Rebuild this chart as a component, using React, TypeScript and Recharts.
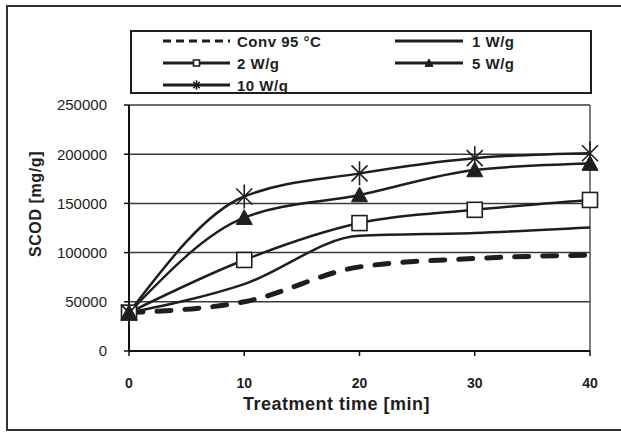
import React from 'react';
import { LineChart, Line, XAxis, YAxis, CartesianGrid, Legend, ReferenceLine } from 'recharts';

const times = [0, 10, 20, 30, 40];
const conv95 = [39000, 50000, 85500, 94000, 97500];
const w1 = [39000, 68000, 117000, 120000, 125500];
const w2 = [39000, 92500, 130000, 143500, 153500];
const w5 = [39000, 135500, 158500, 184000, 190500];
const w10 = [39000, 157000, 180500, 196000, 201000];
const yTicks = [0, 50000, 100000, 150000, 200000, 250000];
const xTicks = [0, 10, 20, 30, 40];
const seriesNames = ['Conv 95 °C', '1 W/g', '2 W/g', '5 W/g', '10 W/g'];
const seriesKeys = ['conv', 'w1', 'w2', 'w5', 'w10'];

const data = times.map((t, i) => ({
  t,
  conv: conv95[i],
  w1: w1[i],
  w2: w2[i],
  w5: w5[i],
  w10: w10[i],
}));

const FONT = '"Liberation Sans", Arial, sans-serif';
const INK = '#1e1e1e';

const SquareDot = (props: any) => {
  const { cx, cy, size = 15 } = props;
  if (cx == null || cy == null) return null;
  const h = size / 2;
  return <rect x={cx - h} y={cy - h} width={size} height={size} fill="#fff" stroke={INK} strokeWidth={1.6} />;
};

const TriangleDot = (props: any) => {
  const { cx, cy, size = 16 } = props;
  if (cx == null || cy == null) return null;
  const h = size / 2;
  return (
    <path
      d={`M${cx},${cy - h} L${cx + h},${cy + h * 0.85} L${cx - h},${cy + h * 0.85} Z`}
      fill={INK}
      stroke={INK}
      strokeWidth={1}
    />
  );
};

const StarDot = (props: any) => {
  const { cx, cy, size = 20 } = props;
  if (cx == null || cy == null) return null;
  const r = size / 2;
  const d = r * 0.8;
  return (
    <g stroke={INK} strokeWidth={1.6} fill="none">
      <line x1={cx} y1={cy - r * 1.2} x2={cx} y2={cy + r * 1.2} />
      <line x1={cx - d} y1={cy - d} x2={cx + d} y2={cy + d} />
      <line x1={cx - d} y1={cy + d} x2={cx + d} y2={cy - d} />
    </g>
  );
};

const markerFor = (key: string, cx: number, cy: number, small: boolean) => {
  if (key === 'w2') return <SquareDot cx={cx} cy={cy} size={small ? 6 : 15} />;
  if (key === 'w5') return <TriangleDot cx={cx} cy={cy} size={small ? 8 : 16} />;
  if (key === 'w10') return <StarDot cx={cx} cy={cy} size={small ? 8 : 20} />;
  return null;
};

const LEG_W = 462;
const LEG_H = 64;
const legendSlots = [
  [0, 0],
  [1, 0],
  [0, 1],
  [1, 1],
  [0, 2],
];
const colLineStart = [33, 265];
const colLineEnd = [100, 333];
const colText = [107, 342];
const rowY = [11, 33, 55];

const renderLegend = (props: any) => {
  const payload = props.payload || [];
  return (
    <svg width={LEG_W} height={LEG_H} style={{ display: 'block' }}>
      <rect x={1} y={1} width={LEG_W - 2} height={LEG_H - 2} fill="#fff" stroke={INK} strokeWidth={2} />
      {payload.map((entry: any, i: number) => {
        const key = String(entry.dataKey);
        const idx = seriesKeys.indexOf(key);
        const [col, row] = legendSlots[idx >= 0 ? idx : i];
        const y = rowY[row];
        const x1 = colLineStart[col];
        const x2 = colLineEnd[col];
        const dashed = key === 'conv';
        return (
          <g key={key}>
            <line
              x1={x1}
              y1={y}
              x2={x2}
              y2={y}
              stroke={INK}
              strokeWidth={3}
              strokeDasharray={dashed ? '8 5' : undefined}
            />
            {markerFor(key, (x1 + x2) / 2, y, true)}
            <text
              x={colText[col]}
              y={y}
              dominantBaseline="central"
              fontFamily={FONT}
              fontSize={15}
              fontWeight="bold"
              letterSpacing={0.5}
              fill={INK}
            >
              {entry.value}
            </text>
          </g>
        );
      })}
    </svg>
  );
};

const XLabel = (props: any) => {
  const vb = props.viewBox || { x: 0, y: 0, width: 0, height: 0 };
  return (
    <text
      x={vb.x + vb.width / 2 - 23}
      y={vb.y + 59}
      textAnchor="middle"
      fontFamily={FONT}
      fontSize={18}
      fontWeight="bold"
      letterSpacing={0.5}
      fill={INK}
    >
      Treatment time [min]
    </text>
  );
};

const YLabel = (props: any) => {
  const vb = props.viewBox || { x: 0, y: 0, width: 0, height: 0 };
  const cx = vb.x + 35;
  const cy = vb.y + vb.height / 2 - 24;
  return (
    <text
      x={cx}
      y={cy}
      transform={`rotate(-90, ${cx}, ${cy})`}
      textAnchor="middle"
      dominantBaseline="central"
      fontFamily={FONT}
      fontSize={16}
      fontWeight="bold"
      letterSpacing={0.6}
      fill={INK}
    >
      SCOD [mg/g]
    </text>
  );
};

export default function App() {
  return (
    <div style={{ position: 'absolute', left: 0, top: 0, width: 621, height: 432, background: '#fff', overflow: 'hidden' }}>
      <div
        style={{
          position: 'absolute',
          left: 6,
          top: 5,
          width: 624,
          height: 426,
          border: '2px solid #333',
          boxSizing: 'border-box',
        }}
      />
      <div style={{ position: 'absolute', left: 0, top: 0 }}>
        <LineChart width={621} height={432} data={data} margin={{ top: 105, right: 31, bottom: 51, left: 0 }}>
          <CartesianGrid horizontal vertical={false} stroke="#3a3a3a" strokeWidth={1.5} />
          <ReferenceLine x={40} stroke="#555" strokeWidth={1.5} />
          <XAxis
            dataKey="t"
            type="number"
            domain={[0, 40]}
            ticks={xTicks}
            interval={0}
            tickSize={5}
            tickMargin={22}
            axisLine={{ stroke: '#111', strokeWidth: 2 }}
            tickLine={{ stroke: '#111', strokeWidth: 1.5 }}
            tick={{ fontFamily: FONT, fontSize: 14, fontWeight: 'bold', fill: INK }}
            label={XLabel}
          />
          <YAxis
            type="number"
            domain={[0, 250000]}
            ticks={yTicks}
            interval={0}
            width={129}
            tickSize={5}
            tickMargin={17}
            axisLine={{ stroke: '#111', strokeWidth: 2 }}
            tickLine={{ stroke: '#111', strokeWidth: 1.5 }}
            tick={{ fontFamily: FONT, fontSize: 15, fill: INK }}
            label={YLabel}
          />
          <Legend
            layout="vertical"
            align="center"
            verticalAlign="middle"
            content={renderLegend}
            wrapperStyle={{ position: 'absolute', left: 130, top: 30, width: LEG_W, height: LEG_H }}
          />
          <Line
            dataKey="conv"
            name={seriesNames[0]}
            type="monotone"
            stroke={INK}
            strokeWidth={5}
            strokeDasharray="14 14"
            strokeLinecap="round"
            dot={false}
            activeDot={false}
            isAnimationActive={false}
          />
          <Line
            dataKey="w1"
            name={seriesNames[1]}
            type="monotone"
            stroke={INK}
            strokeWidth={2.5}
            dot={false}
            activeDot={false}
            isAnimationActive={false}
          />
          <Line
            dataKey="w2"
            name={seriesNames[2]}
            type="monotone"
            stroke={INK}
            strokeWidth={2.5}
            dot={(p: any) => <SquareDot key={`s${p.index}`} cx={p.cx} cy={p.cy} />}
            activeDot={false}
            isAnimationActive={false}
          />
          <Line
            dataKey="w5"
            name={seriesNames[3]}
            type="monotone"
            stroke={INK}
            strokeWidth={2.5}
            dot={(p: any) => <TriangleDot key={`t${p.index}`} cx={p.cx} cy={p.cy} />}
            activeDot={false}
            isAnimationActive={false}
          />
          <Line
            dataKey="w10"
            name={seriesNames[4]}
            type="monotone"
            stroke={INK}
            strokeWidth={2.5}
            dot={(p: any) => <StarDot key={`x${p.index}`} cx={p.cx} cy={p.cy} />}
            activeDot={false}
            isAnimationActive={false}
          />
        </LineChart>
      </div>
    </div>
  );
}
